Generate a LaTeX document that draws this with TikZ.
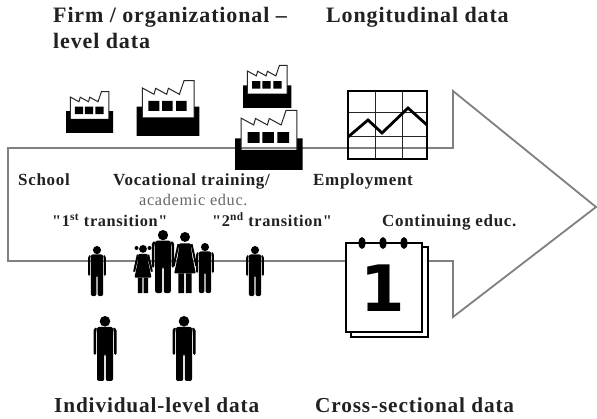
\documentclass[tikz,border=0pt]{standalone}
\usepackage{fontspec}
\setmainfont{Liberation Serif}
\newfontfamily\numfont{DejaVu Sans}
\newfontfamily\spaced[LetterSpace=4]{Liberation Serif}
\definecolor{txt}{gray}{0.13}
\definecolor{arrowgrey}{gray}{0.5}
\tikzset{
  heading/.style={anchor=base west,inner sep=0,font=\spaced\bfseries\fontsize{22}{24}\selectfont,text=txt},
  footing/.style={anchor=base west,inner sep=0,font=\spaced\bfseries\fontsize{21.3}{24}\selectfont,text=txt},
  label/.style={anchor=base west,inner sep=0,font=\spaced\bfseries\fontsize{17}{19}\selectfont,text=txt},
  translabel/.style={anchor=base west,inner sep=0,font=\spaced\bfseries\fontsize{16.3}{19}\selectfont,text=txt},
  sublabel/.style={anchor=base west,inner sep=0,font=\spaced\fontsize{16.3}{19}\selectfont,text=black!60},
  arrowline/.style={draw=arrowgrey,line width=1.8pt,miter limit=10},
  factory/.pic={
    \fill[black] (0,-29.3)--(5.7,-29.3)--(5.7,-18.7)--(57.3,-18.7)--(57.3,-29.3)--(62.7,-29.3)--(62.7,0)--(0,0)--cycle;
    \draw[black!85,line width=1pt,line join=miter] (5.7,-18.7)--(5.7,-48)--(17.3,-41.7)--(19,-47.7)--(30,-41.7)--(31.7,-47.7)--(42.7,-41.7)--(47.3,-55.3)--(57.3,-55.3)--(57.3,-18.7);
    \fill[black] (11.7,-35) rectangle (22.7,-25) (25.3,-35) rectangle (36,-25) (39.3,-35) rectangle (50,-25);
  },
  person/.pic={
    \fill[black] (0,5.3) circle (5.3);
    \fill[black,rounded corners=2pt] (-8,11)--(8,11)--(8,65)--(.8,65)--(.8,38)--(-.8,38)--(-.8,65)--(-8,65)--cycle;
    \fill[black,rounded corners=1.5pt] (-8,11)--(-11.5,13)--(-11.5,39)--(-9,39)--(-9,18)--cycle;
    \fill[black,rounded corners=1.5pt] (8,11)--(11.5,13)--(11.5,39)--(9,39)--(9,18)--cycle;
  },
  lady/.pic={
    \fill[black] (0,5.3) circle (5.3);
    \fill[black,rounded corners=1pt] (-6,12)--(6,12)--(7.5,25)--(11.5,44)--(-11.5,44)--(-7.5,25)--cycle;
    \fill[black] (-7,44) rectangle (-1,65) (1,44) rectangle (7,65);
    \draw[black,line width=2pt] (-7,13)--(-12,36) (7,13)--(12,36);
  },
}
\begin{document}
\begin{tikzpicture}[x=1pt,y=-1pt]
\useasboundingbox (0,0) rectangle (597,419);
\fill[white] (0,0) rectangle (597,419);
% big arrow
\draw[arrowline] (8,148)--(453,148)--(453,91)--(596,207)--(453,317)--(453,261)--(8,261)--cycle;
% factories
\pic[scale=.75] at (66,133) {factory};
\pic at (136.7,136) {factory};
\pic[scale=.77] at (243,108) {factory};
\pic[scale=1.08] at (235,170) {factory};
% chart
\draw[black!85,line width=1pt] (375,91)--(375,159) (402,91)--(402,159) (348,113)--(427,113) (348,137)--(427,137);
\draw[black,line width=1.8pt] (348,91) rectangle (427,159);
\draw[black,line width=2.8pt,line join=miter] (348,137)--(368,120)--(382,133)--(408,108)--(427,125);
% calendar
\draw[black,line width=1.2pt,fill=white] (351,247) rectangle (428,337);
\draw[black,line width=1.2pt,fill=white] (346,243) rectangle (422,332);
\fill[black] (362,243) ellipse (3.5 and 6) (383,243) ellipse (3.5 and 6) (404,243) ellipse (3.5 and 6);
\node[inner sep=0,font=\numfont\bfseries\fontsize{64}{64}\selectfont] (calnum) at (383,288) {1};
% people
\pic[scale=.77] at (97,246) {person};
\pic[scale=.77] at (255,246) {person};
\pic at (105,316) {person};
\pic at (184,316) {person};
\pic[scale=.97] at (163,230) {person};
\pic[scale=.94] at (185,232) {lady};
\pic[scale=.74] at (143,245) {lady};
\fill[black] (136.5,248) circle (2) (149.5,248) circle (2);
\pic[scale=.77] at (205,243) {person};
% text
\node[heading] (t1) at (53,23) {Firm / organizational –};
\node[heading] (t2) at (53,49) {level data};
\node[heading] (t3) at (326,23) {Longitudinal data};
\node[label] (t4) at (18,186) {School};
\node[label] (t5) at (113,186) {Vocational training/};
\node[sublabel] (t6) at (139,206) {academic educ.};
\node[label] (t7) at (313,186) {Employment};
\node[translabel] (t8) at (52,227) {"1\textsuperscript{st} transition"};
\node[translabel] (t9) at (212,227) {"2\textsuperscript{nd} transition"};
\node[label] (t10) at (382,227) {Continuing educ.};
\node[footing] (t11) at (54,413) {Individual-level data};
\node[footing] (t12) at (315,413) {Cross-sectional data};
\end{tikzpicture}
\end{document}
